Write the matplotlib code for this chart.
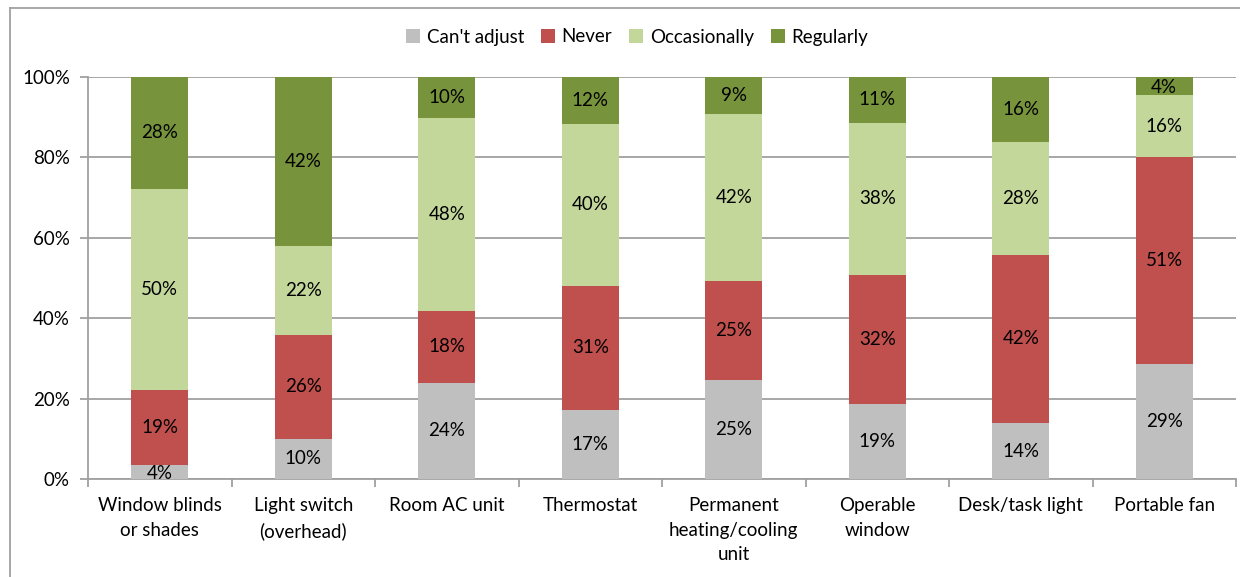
import matplotlib.pyplot as plt
from matplotlib.lines import Line2D
from matplotlib.patches import Patch
import numpy as np

plt.rcParams['font.family'] = ['Lato', 'DejaVu Sans']

# categories and shares (percent of respondents)
categories = ['Window blinds\nor shades', 'Light switch\n(overhead)', 'Room AC unit', 'Thermostat',
              'Permanent\nheating/cooling\nunit', 'Operable\nwindow', 'Desk/task light', 'Portable fan']
cant_adjust = [3.6, 10.0, 24.0, 17.2, 24.6, 18.7, 13.9, 28.7]
never = [18.6, 25.8, 17.8, 30.8, 24.6, 32.1, 41.9, 51.3]
occasionally = [50.0, 22.2, 48.1, 40.4, 41.6, 37.8, 28.1, 15.6]
regularly = [27.8, 42.0, 10.1, 11.6, 9.2, 11.4, 16.1, 4.4]

series = [("Can't adjust", cant_adjust, '#BFBFBF'),
          ('Never', never, '#C0504D'),
          ('Occasionally', occasionally, '#C4D79B'),
          ('Regularly', regularly, '#77933C')]

fs = 13.5

fig = plt.figure(figsize=(12.4, 5.77), dpi=100)
ax = fig.add_axes([88 / 1240, 98 / 577, 1148 / 1240, 402 / 577])

x = np.arange(len(categories))
bottom = np.zeros(len(categories))
for name, vals, col in series:
    vals = np.array(vals)
    ax.bar(x, vals, 0.40, bottom=bottom, color=col, zorder=3)
    for xi, b, v in zip(x, bottom, vals):
        yc = b + v / 2
        if v < 5:
            yc = b + v / 2 - 0.4
        ax.text(xi, yc, '%d%%' % round(v), ha='center', va='center', fontsize=fs, color='black', zorder=4)
    bottom += vals

ax.set_xlim(-0.5, len(categories) - 0.5)
ax.set_ylim(0, 100)
ax.set_yticks(range(0, 101, 20))
ax.set_yticklabels(['%d%%' % t for t in range(0, 101, 20)], fontsize=fs)
ax.yaxis.grid(True, color='#A0A0A0', linewidth=1.3, zorder=0)

ax.set_xticks(x)
ax.set_xticklabels(categories, fontsize=fs, linespacing=1.55)
ax.set_xticks(np.arange(-0.5, len(categories)), minor=True)
ax.tick_params(axis='x', which='major', length=0, pad=13)
ax.tick_params(axis='x', which='minor', length=6, color='#A0A0A0', width=1.3)
ax.tick_params(axis='y', length=6, color='#A0A0A0', width=1.3, pad=7)

for s in ['top', 'right']:
    ax.spines[s].set_visible(False)
for s in ['left', 'bottom']:
    ax.spines[s].set_color('#A0A0A0')
    ax.spines[s].set_linewidth(1.3)

handles = [Patch(facecolor=c, label=n) for n, v, c in series]
fig.legend(handles=handles, loc='center', bbox_to_anchor=(637 / 1240, 1 - 37 / 577), ncol=4,
           frameon=False, fontsize=fs, handlelength=0.75, handleheight=0.75, handletextpad=0.35,
           columnspacing=0.9)

# chart area border
fig.add_artist(Line2D([10 / 1240, 10 / 1240], [0, 1 - 8 / 577], color='#A0A0A0', linewidth=1.3))
fig.add_artist(Line2D([10 / 1240, 1], [1 - 8 / 577, 1 - 8 / 577], color='#A0A0A0', linewidth=1.3))

fig.savefig('out.png', dpi=100)
